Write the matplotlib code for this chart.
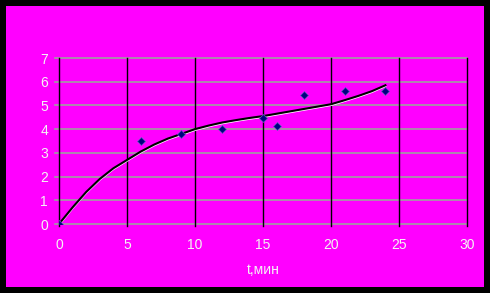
import matplotlib
matplotlib.use("Agg")
import matplotlib.pyplot as plt
from matplotlib.patches import Rectangle
import matplotlib.transforms as mtransforms

# measured points
t_pts = [0, 6, 9, 12, 15, 16, 18, 21, 24]
y_pts = [0, 3.5, 3.8, 4.0, 4.45, 4.15, 5.45, 5.6, 5.6]

# trend curve
t_curve = [0, 1, 2, 3, 4, 5, 6, 7, 8, 9, 10, 11, 12, 13, 14, 15, 16, 17, 18, 19, 20, 21, 22, 23, 24]
y_curve = [0, 0.7, 1.35, 1.9, 2.35, 2.7, 3.05, 3.35, 3.6, 3.8, 4.0, 4.15, 4.28, 4.38, 4.47,
           4.55, 4.65, 4.75, 4.85, 4.95, 5.05, 5.22, 5.4, 5.6, 5.85]

x_ticks = [0, 5, 10, 15, 20, 25, 30]
y_ticks = [0, 1, 2, 3, 4, 5, 6, 7]
x_label = "t,мин"

plt.rcParams['font.family'] = ['Liberation Sans Narrow', 'Liberation Sans', 'DejaVu Sans']

W, H = 490, 293
fig = plt.figure(figsize=(W/100, H/100), dpi=100, facecolor="black")
fig.patches.append(Rectangle((6/W, 6/H), 478/W, 281/H, transform=fig.transFigure,
                             facecolor="#FF00FF", edgecolor="none", zorder=-5))

ax = fig.add_axes([59/W, 1-224/H, 408/W, (224-58)/H])
ax.set_zorder(5)
ax.set_facecolor("none")
ax.set_xlim(0, 30)
ax.set_ylim(0, 7)
for s in ax.spines.values():
    s.set_visible(False)

for yv in y_ticks:
    ax.plot([-0.3, 30], [yv, yv], color="#a0a0a0", lw=1.2, zorder=1, clip_on=False)
for xv in x_ticks:
    ax.plot([xv, xv], [-0.1, 7], color="black", lw=1.0, zorder=1, clip_on=False)

ax.plot(t_curve, y_curve, color="white", lw=1.2, zorder=2,
        transform=ax.transData + mtransforms.ScaledTranslation(0, -1/100, fig.dpi_scale_trans))
ax.plot(t_curve, y_curve, color="black", lw=1.5, zorder=3)
ax.plot(t_pts, y_pts, linestyle="none", marker="D", markersize=4.5,
        markerfacecolor="#000080", markeredgecolor="#6060c0", markeredgewidth=0.5, zorder=4)

ax.set_xticks(x_ticks)
ax.set_yticks(y_ticks)
ax.tick_params(length=0, colors="#f4f4f4", labelsize=10)
ax.tick_params(axis="x", pad=10)
ax.tick_params(axis="y", pad=8)
ax.set_xlabel(x_label, color="#f4f4f4", fontsize=10, labelpad=8)

fig.savefig("out.png", dpi=100, facecolor="black")
